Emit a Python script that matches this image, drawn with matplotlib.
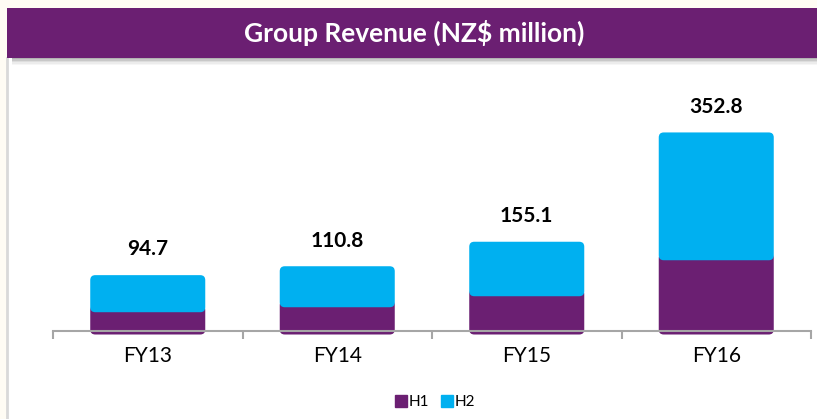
import matplotlib.pyplot as plt
from matplotlib.patches import FancyBboxPatch, Rectangle
from matplotlib.lines import Line2D
from matplotlib.transforms import IdentityTransform

# data (NZ$ million)
years = ["FY13", "FY14", "FY15", "FY16"]
h1 = [40.3, 49.3, 69.2, 134.3]
totals = [94.7, 110.8, 155.1, 352.8]
h2 = [round(t - a, 1) for t, a in zip(totals, h1)]

PURPLE = "#6B1F72"
CYAN = "#00B0F0"
GREY = "#A6A6A6"
W, H = 817, 419

plt.rcParams["font.family"] = ["Lato", "DejaVu Sans"]

fig = plt.figure(figsize=(W / 100, H / 100), dpi=100, facecolor="#FFFCF4")


def fx(px):
    return px / W


def fy(py):
    return 1 - py / H


# white panel, left edge line, title band with shadow
fig.patches.append(Rectangle((fx(7), 0), 1, fy(58), transform=fig.transFigure,
                             facecolor="white", edgecolor="none", zorder=0))
fig.add_artist(Line2D([fx(6.5), fx(6.5)], [0, fy(58)], color="#D9D9D9", lw=2, zorder=1))
for i, a in enumerate([0.45, 0.32, 0.2, 0.11, 0.05]):
    fig.patches.append(Rectangle((fx(12), fy(59.5 + i * 1.5)), 1, 1.5 / H,
                                 transform=fig.transFigure, facecolor="#555555",
                                 alpha=a, edgecolor="none", zorder=1))
fig.patches.append(Rectangle((fx(7), fy(58)), 1, 50 / H, transform=fig.transFigure,
                             facecolor=PURPLE, edgecolor="none", zorder=2))
fig.text(fx(414), fy(33), "Group Revenue (NZ$ million)", color="white",
         fontsize=19, fontweight="bold", ha="center", va="center", zorder=3)

ax = fig.add_axes([fx(53), fy(331), fx(811) - fx(53), 273 / H])
ax.set_zorder(5)
ax.set_facecolor("none")
ax.set_xlim(-0.5, 3.5)
ax.set_ylim(0, 273 / 0.5529)

x = list(range(len(years)))
b1 = ax.bar(x, h1, width=0.57, color=PURPLE)
b2 = ax.bar(x, h2, width=0.57, bottom=h1, color=CYAN)

# redraw bars as rounded boxes (Excel style)
for bars, col, z in [(b1, PURPLE, 3), (b2, CYAN, 4)]:
    for r in bars:
        (x0, y0), (x1, y1) = ax.transData.transform(
            [(r.get_x(), r.get_y()), (r.get_x() + r.get_width(), r.get_y() + r.get_height())])
        fig.add_artist(FancyBboxPatch((x0, y0), x1 - x0, y1 - y0,
                                      boxstyle="round,pad=3.5,rounding_size=5",
                                      transform=IdentityTransform(),
                                      facecolor=col, edgecolor="none", zorder=z))
        r.set_visible(False)

for xi, t in zip(x, totals):
    ax.annotate(f"{t:.1f}", (xi, t), xytext=(0, 21), textcoords="offset points",
                ha="center", va="center", fontsize=15, fontweight="bold", color="black")

for s in ["top", "left", "right"]:
    ax.spines[s].set_visible(False)
ax.spines["bottom"].set_color(GREY)
ax.spines["bottom"].set_linewidth(1.5)
ax.set_yticks([])
ax.set_xticks([-0.5, 0.5, 1.5, 2.5, 3.5])
ax.set_xticklabels([])
ax.tick_params(axis="x", which="major", length=5.5, width=1.5, color=GREY, direction="out")
ax.set_xticks(x, minor=True)
ax.set_xticklabels(years, minor=True)
ax.tick_params(axis="x", which="minor", length=0, pad=11, labelsize=15)

handles = [Line2D([], [], marker="s", ls="none", color=PURPLE, markersize=9),
           Line2D([], [], marker="s", ls="none", color=CYAN, markersize=9)]
fig.legend(handles, ["H1", "H2"], loc="center", bbox_to_anchor=(fx(435), fy(402)),
           ncol=2, frameon=False, fontsize=11, handlelength=0.8, handletextpad=0.1,
           columnspacing=0.8)

fig.savefig("out.png", dpi=100, facecolor=fig.get_facecolor())
